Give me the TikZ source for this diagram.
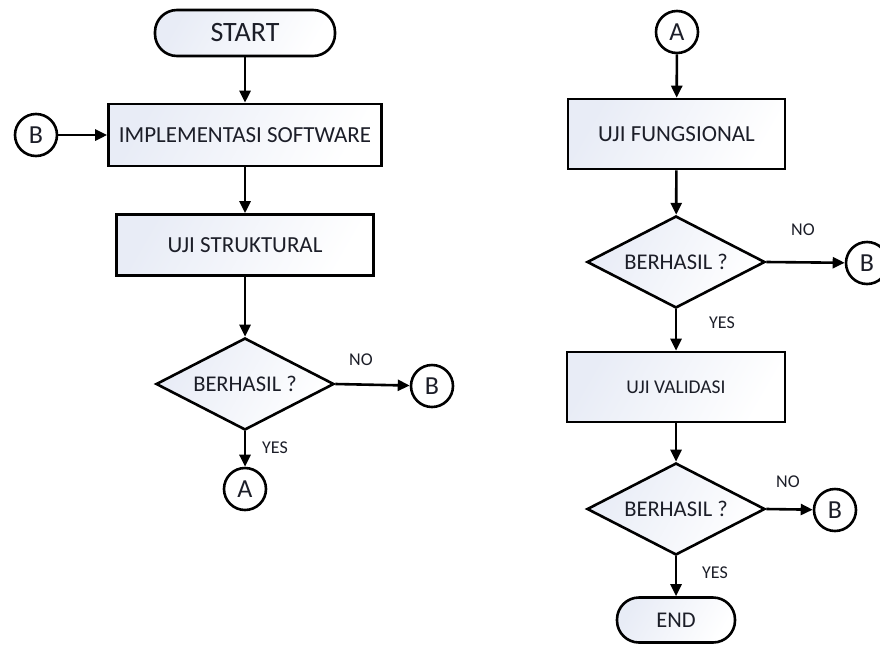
\documentclass[tikz,border=0pt]{standalone}
\usepackage{fontspec}
\setmainfont{Carlito}
\usetikzlibrary{shapes.geometric,arrows.meta}
\definecolor{fillc}{HTML}{E8ECF6}
\definecolor{txt}{HTML}{1C1E28}
\begin{document}
\begin{tikzpicture}[x=1pt,y=-1pt,line width=2.6pt,
  >={Triangle[length=12pt,width=11pt]},
  shadefill/.style={left color=fillc,right color=white,shading angle=60},
  box/.style={draw,rectangle,inner sep=0pt,shadefill,text=txt},
  term/.style={draw,rectangle,rounded corners=22pt,inner sep=0pt,shadefill,text=txt},
  dec/.style={draw,diamond,aspect=1.9,inner sep=0pt,shadefill,text=txt,
    minimum width=178pt,minimum height=92pt,font=\fontsize{22.5}{24}\selectfont},
  conn/.style={draw,circle,minimum size=42pt,inner sep=0pt,fill=white,text=txt,
    font=\fontsize{26}{26}\selectfont},
  lbl/.style={text=txt,inner sep=0pt,font=\fontsize{18}{18}\selectfont},
  flow/.style={->}]
\useasboundingbox (0,0) rectangle (880,646);
% left column
\node[term,minimum width=180pt,minimum height=46pt,font=\fontsize{28}{28}\selectfont] (start) at (245,33) {START};
\node[box,minimum width=273pt,minimum height=62pt,font=\fontsize{23}{24}\selectfont] (impl) at (245,135) {IMPLEMENTASI SOFTWARE};
\node[conn] (b0) at (36,135) {B};
\node[box,minimum width=257pt,minimum height=61pt,font=\fontsize{23}{24}\selectfont] (struk) at (245,245) {UJI STRUKTURAL};
\node[dec] (d1) at (245,384) {BERHASIL ?};
\node[conn] (b1) at (432,386) {B};
\node[conn] (a1) at (245,489) {A};
\node[lbl] (no1) at (361,360) {NO};
\node[lbl] (yes1) at (275,448) {YES};
\draw[flow] (start) -- (impl);
\draw[flow] (b0) -- (impl);
\draw[flow] (impl) -- (struk);
\draw[flow] (struk) -- (d1);
\draw[flow] (d1.east) -- (b1);
\draw[flow] (d1) -- (a1);
% right column
\node[conn] (a2) at (677,32) {A};
\node[box,minimum width=217pt,minimum height=70pt,font=\fontsize{23}{24}\selectfont] (fung) at (676.5,134) {UJI FUNGSIONAL};
\node[dec] (d2) at (676,262) {BERHASIL ?};
\node[conn] (b2) at (867,263) {B};
\node[lbl] (no2) at (803,230) {NO};
\node[lbl] (yes2) at (722,323) {YES};
\node[box,minimum width=218pt,minimum height=70pt,font=\fontsize{19.5}{20}\selectfont] (valid) at (676,387) {UJI VALIDASI};
\node[dec] (d3) at (676,509) {BERHASIL ?};
\node[conn] (b3) at (835,510) {B};
\node[lbl] (no3) at (788,482) {NO};
\node[lbl] (yes3) at (715,573) {YES};
\node[term,minimum width=118pt,minimum height=45pt,font=\fontsize{22.5}{24}\selectfont] (end) at (676,620) {END};
\draw[flow] (a2) -- (fung);
\draw[flow] (fung) -- (d2);
\draw[flow] (d2.east) -- (b2);
\draw[flow] (d2) -- (valid);
\draw[flow] (valid) -- (d3);
\draw[flow] (d3.east) -- (b3);
\draw[flow] (d3) -- (end);
\end{tikzpicture}
\end{document}
